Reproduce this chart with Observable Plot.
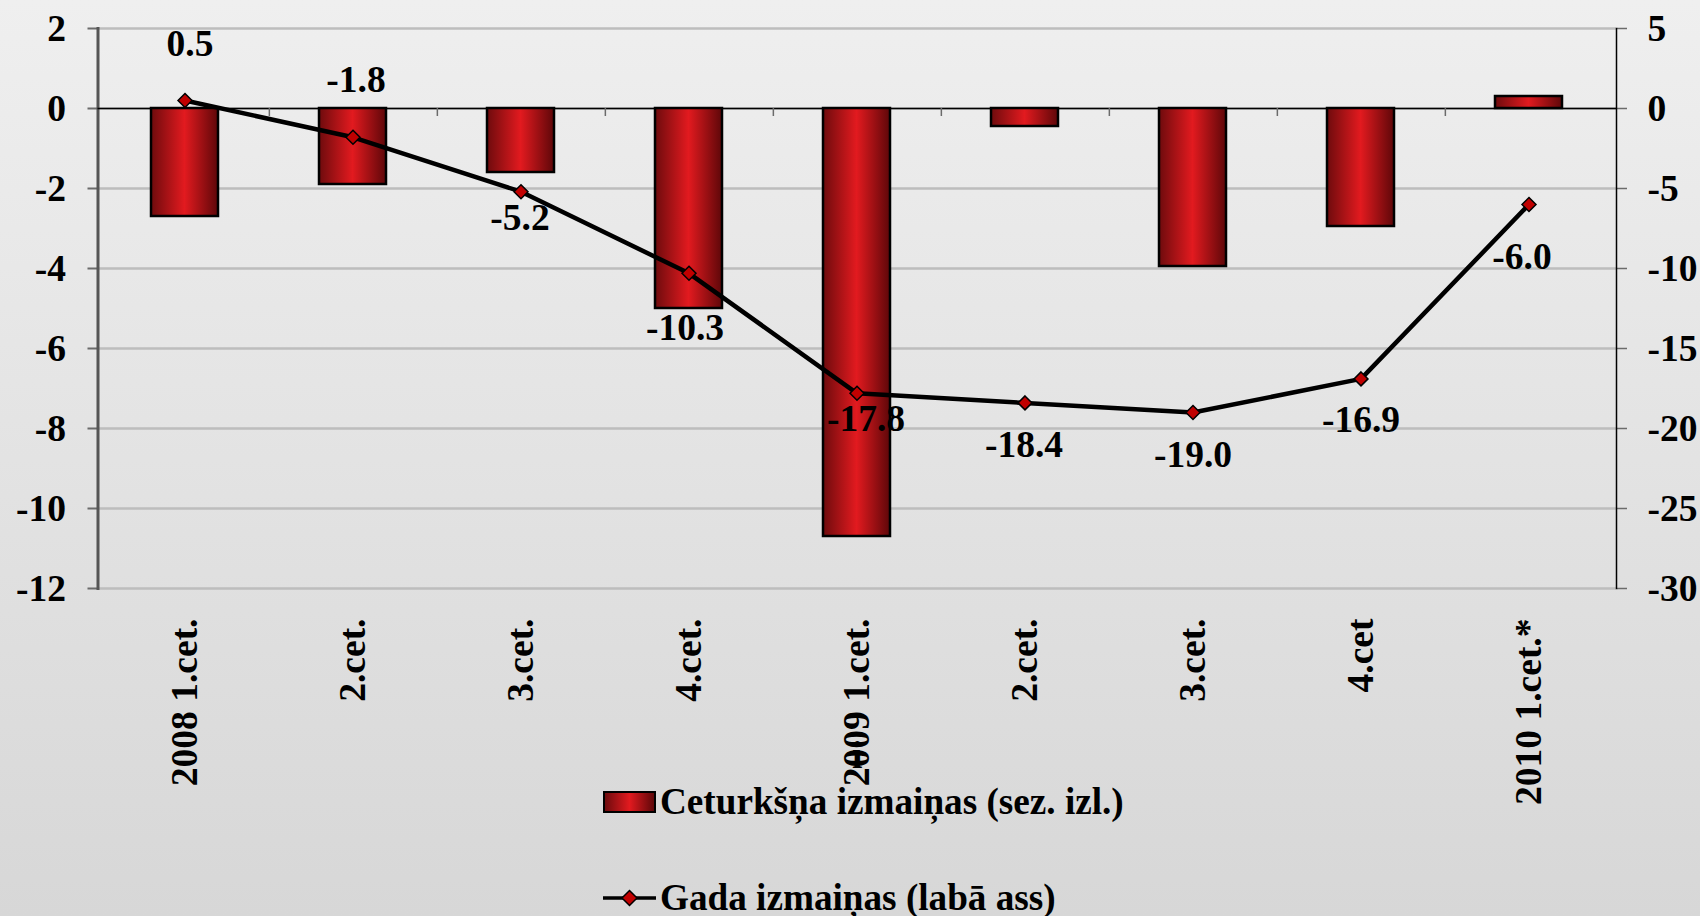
<!DOCTYPE html>
<html><head><meta charset="utf-8">
<script src="https://cdn.jsdelivr.net/npm/d3@7"></script>
<script src="https://cdn.jsdelivr.net/npm/@observablehq/plot@0.6"></script>
<style>
html,body{margin:0;padding:0;}
body{width:1700px;height:916px;overflow:hidden;background:linear-gradient(#efefef,#d7d7d7);font-family:"Liberation Serif","Times New Roman",serif;font-weight:bold;color:#000;}
#chart{position:relative;width:1700px;height:916px;}
#chart svg{overflow:visible;display:block;}
.legend{margin-left:603px;margin-top:12px;font-size:37.2px;}
.legend .row{height:40px;line-height:40px;display:flex;align-items:center;white-space:nowrap;}
.legend .row + .row{margin-top:56px;}
.sw-bar{box-sizing:border-box;width:53px;height:22px;border:2.5px solid #000;background:linear-gradient(90deg,#6e0b0d,#e21a1f 50%,#5e0709);margin-right:4px;}
.sw-line{width:53px;height:22px;margin-right:4px;}
</style>
</head><body>
<div id="chart"></div>
<script>
const categories = ["2008 1.cet.","2.cet.","3.cet.","4.cet.","2009 1.cet.","2.cet.","3.cet.","4.cet","2010 1.cet.*"];
const quarterly = [-2.7,-1.9,-1.6,-5.0,-10.7,-0.45,-3.95,-2.95,0.3];
const annual = [0.5,-1.8,-5.2,-10.3,-17.8,-18.4,-19.0,-16.9,-6.0];
const leftTicks = [2,0,-2,-4,-6,-8,-10,-12];
const rightTicks = [5,0,-5,-10,-15,-20,-25,-30];
const seriesNames = ["Ceturkšņa izmaiņas (sez. izl.)","Gada izmaiņas (labā ass)"];
const labelDy = [-57,-57,26,55,26,42,42,41,52];
const labelDx = [5,3,-1,-4,9,-1,0,0,-7];

const ratio = (d3.max(leftTicks)-d3.min(leftTicks))/(d3.max(rightTicks)-d3.min(rightTicks));
const data = categories.map((c,i)=>({i, cat:c, q:quarterly[i], a:annual[i], ay:annual[i]*ratio}));

const W=1700, H=770, mL=97.5, mR=84, mT=28, mB=182;
const step = (W-mL-mR)/categories.length;
const font = '"Liberation Serif","Times New Roman",serif';

const svg = Plot.plot({
  width:W, height:H, marginLeft:mL, marginRight:mR, marginTop:mT, marginBottom:mB,
  style:{background:"transparent", fontFamily:font, fontWeight:"bold", fontSize:"37px", color:"#000", overflow:"visible"},
  x:{type:"band", domain:d3.range(categories.length), paddingInner:0.6, paddingOuter:0.3, axis:null},
  y:{domain:[d3.min(leftTicks), d3.max(leftTicks)], axis:null},
  marks:[
    Plot.gridY(leftTicks, {stroke:"#bdbdbd", strokeOpacity:1, strokeWidth:2.5}),
    Plot.axisY(leftTicks, {anchor:"left", tickSize:10, tickPadding:22, stroke:"#6b6b6b", strokeWidth:2, fontSize:37.5, fontWeight:"bold", tickFormat:d=>`${d}`}),
    Plot.axisY(rightTicks.map(v=>v*ratio), {anchor:"right", tickSize:10, tickPadding:21, stroke:"#6b6b6b", strokeWidth:1.5, fontSize:37.5, fontWeight:"bold", tickFormat:d=>`${Math.round(d/ratio)}`}),
    Plot.frame({anchor:"left", stroke:"#555", strokeWidth:3}),
    Plot.frame({anchor:"right", stroke:"#000", strokeWidth:1.5}),
    Plot.axisX({anchor:"bottom", tickRotate:-90, tickSize:0, tickPadding:30, fontSize:37.5, fontWeight:"bold", tickFormat:i=>categories[i]}),
    Plot.ruleY([0], {stroke:"#000", strokeWidth:1.5}),
    Plot.ruleX(d3.range(categories.length-1), {x:d=>d, dx:step/2, y1:0, y2:-0.2, stroke:"#6b6b6b", strokeWidth:1.5}),
    Plot.barY(data, {x:"i", y:"q", fill:"url(#barGrad)", stroke:"#000", strokeWidth:2.5}),
    Plot.line(data, {x:"i", y:"ay", stroke:"#000", strokeWidth:4.5}),
    Plot.dot(data, {x:"i", y:"ay", symbol:"diamond2", r:6.3, fill:"#c00000", stroke:"#000", strokeWidth:1.5}),
    ...data.map((d,k)=>Plot.text([d], {x:"i", y:"ay", text:d=>d.a.toFixed(1), dy:labelDy[k], dx:labelDx[k], fontSize:37.5, fontWeight:"bold", fill:"#000"}))
  ]
});

const defs = d3.select(svg).insert("defs", ":first-child");
const grad = defs.append("linearGradient").attr("id","barGrad").attr("x1",0).attr("x2",1).attr("y1",0).attr("y2",0);
grad.append("stop").attr("offset","0").attr("stop-color","#6e0b0d");
grad.append("stop").attr("offset","0.5").attr("stop-color","#e21a1f");
grad.append("stop").attr("offset","1").attr("stop-color","#5e0709");

const chart = document.getElementById("chart");
chart.appendChild(svg);

const legend = document.createElement("div");
legend.className = "legend";
legend.innerHTML = `
<div class="row"><div class="sw-bar"></div><span>${seriesNames[0]}</span></div>
<div class="row"><svg class="sw-line" viewBox="0 0 53 22"><line x1="0" y1="11" x2="53" y2="11" stroke="#000" stroke-width="3.5"/><path d="M26.5 3.5 L34 11 L26.5 18.5 L19 11 Z" fill="#c00000" stroke="#000" stroke-width="1.5"/></svg><span>${seriesNames[1]}</span></div>`;
chart.appendChild(legend);
</script>
</body></html>
